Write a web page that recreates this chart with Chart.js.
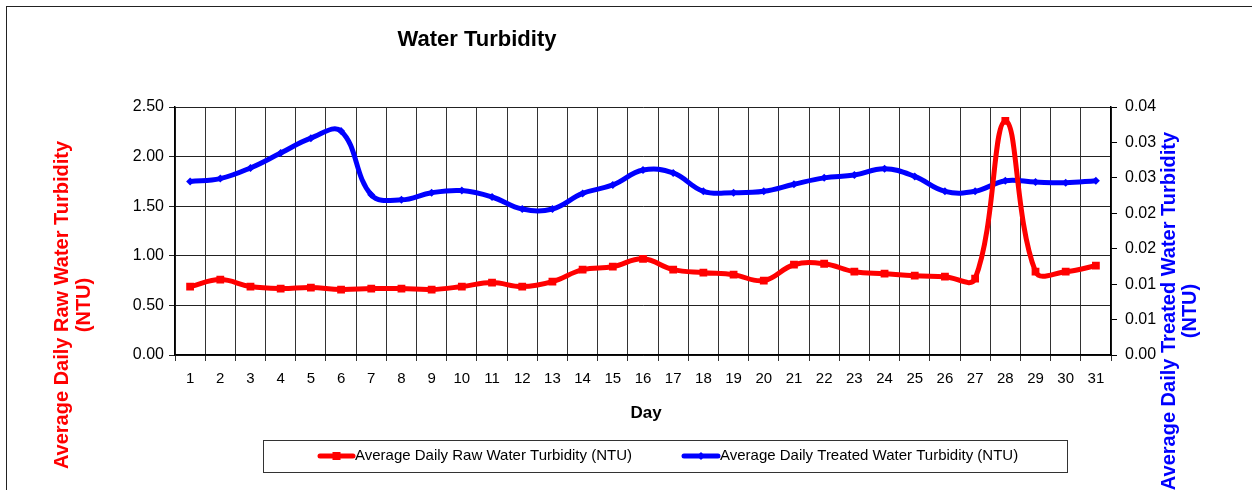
<!DOCTYPE html>
<html>
<head>
<meta charset="utf-8">
<script src="https://cdn.jsdelivr.net/npm/chart.js@4.4.1/dist/chart.umd.min.js"></script>
<style>
html,body{margin:0;padding:0;background:#fff;}
#wrap{position:relative;width:1252px;height:490px;overflow:hidden;background:#fff;}
#frame{position:absolute;left:6px;top:6px;width:1400px;height:700px;border:1.5px solid #222;box-sizing:border-box;}
#c{position:absolute;left:0;top:0;}
</style>
</head>
<body>
<div id="wrap"><div id="frame"></div><canvas id="c" width="1252" height="490"></canvas></div>
<script>
const days = ['1','2','3','4','5','6','7','8','9','10','11','12','13','14','15','16','17','18','19','20','21','22','23','24','25','26','27','28','29','30','31'];
const rawTurbidity = [0.69,0.76,0.69,0.67,0.68,0.66,0.67,0.67,0.66,0.69,0.73,0.69,0.74,0.86,0.89,0.97,0.86,0.83,0.81,0.75,0.91,0.92,0.84,0.82,0.80,0.79,0.77,2.36,0.84,0.84,0.90];
const treatedTurbidity = [0.0245,0.0249,0.0264,0.0285,0.0306,0.0316,0.0226,0.0219,0.0229,0.0232,0.0223,0.0206,0.0206,0.0228,0.0240,0.0261,0.0257,0.0231,0.0229,0.0231,0.0241,0.0250,0.0254,0.0263,0.0252,0.0231,0.0231,0.0246,0.0244,0.0243,0.0246];
const leftTickLabels = ['0.00','0.50','1.00','1.50','2.00','2.50'];
const rightTickLabels = ['0.00','0.01','0.01','0.02','0.02','0.03','0.03','0.04'];
const chartTitle = 'Water Turbidity';
const xTitle = 'Day';
const leftTitle = ['Average Daily Raw Water Turbidity', '(NTU)'];
const rightTitle = ['Average Daily Treated Water Turbidity', '(NTU)'];
const rawLabel = 'Average Daily Raw Water Turbidity (NTU)';
const treatedLabel = 'Average Daily Treated Water Turbidity (NTU)';

const FONT = "'Liberation Sans', Arial, sans-serif";

const decor = {
  id: 'decor',
  afterDraw(chart) {
    const ctx = chart.ctx;
    ctx.save();
    ctx.fillStyle = '#000';
    ctx.font = 'bold 22px ' + FONT;
    ctx.textAlign = 'center';
    ctx.textBaseline = 'middle';
    ctx.fillText(chartTitle, 477, 40);
    ctx.font = 'bold 17px ' + FONT;
    ctx.fillText(xTitle, 646, 413);
    const drawRot = (lines, x0, x1, cy, color) => {
      ctx.save();
      ctx.fillStyle = color;
      ctx.font = 'bold 20px ' + FONT;
      ctx.textAlign = 'center';
      ctx.textBaseline = 'middle';
      ctx.translate(x0, cy);
      ctx.rotate(-Math.PI / 2);
      ctx.fillText(lines[0], 0, 0);
      ctx.fillText(lines[1], 0, x1 - x0);
      ctx.restore();
    };
    drawRot(leftTitle, 62, 84, 305, '#ff0000');
    drawRot(rightTitle, 1169, 1190, 311, '#0000ff');
    ctx.strokeStyle = '#333';
    ctx.lineWidth = 1;
    ctx.strokeRect(263.5, 440.5, 804, 32);
    const ds = chart.data.datasets;
    const items = [
      {x0: 320, x1: 353, tx: 355, d: ds[0]},
      {x0: 684, x1: 718, tx: 720, d: ds[1]}
    ];
    const ly = 456;
    items.forEach(it => {
      ctx.strokeStyle = it.d.borderColor;
      ctx.lineWidth = 5;
      ctx.lineCap = 'round';
      ctx.beginPath();
      ctx.moveTo(it.x0, ly);
      ctx.lineTo(it.x1, ly);
      ctx.stroke();
      ctx.fillStyle = it.d.borderColor;
      const cx = (it.x0 + it.x1) / 2;
      if (it.d.pointStyle === 'rect') {
        ctx.fillRect(cx - 4, ly - 4, 8, 8);
      } else {
        ctx.beginPath();
        ctx.moveTo(cx, ly - 4); ctx.lineTo(cx + 4, ly); ctx.lineTo(cx, ly + 4); ctx.lineTo(cx - 4, ly);
        ctx.closePath(); ctx.fill();
      }
      ctx.fillStyle = '#000';
      ctx.font = '15px ' + FONT;
      ctx.textAlign = 'left';
      ctx.textBaseline = 'middle';
      ctx.fillText(it.d.label, it.tx, ly);
    });
    ctx.restore();
  }
};

new Chart(document.getElementById('c'), {
  type: 'line',
  data: {
    labels: days,
    datasets: [
      {
        label: rawLabel, data: rawTurbidity, yAxisID: 'y',
        borderColor: '#ff0000', backgroundColor: '#ff0000',
        borderWidth: 5, pointStyle: 'rect', pointRadius: 5.5,
        pointBorderWidth: 0, tension: 0.4, fill: false
      },
      {
        label: treatedLabel, data: treatedTurbidity, yAxisID: 'y1',
        borderColor: '#0000ff', backgroundColor: '#0000ff',
        borderWidth: 5, pointStyle: 'rectRot', pointRadius: 4,
        pointBorderWidth: 0, tension: 0.4, fill: false
      }
    ]
  },
  options: {
    responsive: false,
    animation: false,
    devicePixelRatio: 1,
    layout: {padding: {left: 100, top: 107, right: 41, bottom: 85}},
    plugins: {legend: {display: false}, title: {display: false}, tooltip: {enabled: false}},
    scales: {
      x: {
        offset: true,
        grid: {offset: true, color: '#333', lineWidth: 1, tickLength: 6, drawTicks: true},
        border: {color: '#000', width: 1.5},
        ticks: {color: '#000', font: {family: FONT, size: 15}, padding: 9, maxRotation: 0, autoSkip: false},
        afterFit: s => { s.height = 50; }
      },
      y: {
        position: 'left', min: 0, max: 2.5,
        grid: {color: '#222', lineWidth: 1, tickLength: 6},
        border: {color: '#000', width: 1.5},
        ticks: {stepSize: 0.5, color: '#000', font: {family: FONT, size: 16}, padding: 5,
          callback: v => leftTickLabels[Math.round(v / 0.5)]},
        afterFit: s => { s.width = 75; }
      },
      y1: {
        position: 'right', min: 0, max: 0.035,
        grid: {drawOnChartArea: false, color: '#000', lineWidth: 1, tickLength: 6},
        border: {color: '#000', width: 1.5},
        ticks: {stepSize: 0.005, color: '#000', font: {family: FONT, size: 16}, padding: 8,
          callback: v => rightTickLabels[Math.round(v / 0.005)]},
        afterFit: s => { s.width = 100; }
      }
    }
  },
  plugins: [decor]
});
</script>
</body>
</html>
